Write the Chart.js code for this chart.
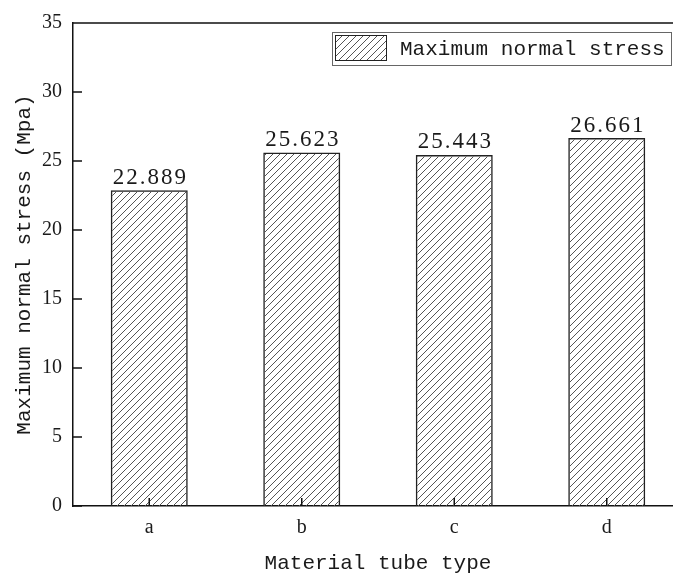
<!DOCTYPE html>
<html>
<head>
<meta charset="utf-8">
<script src="https://cdn.jsdelivr.net/npm/chart.js@4.4.0/dist/chart.umd.min.js"></script>
<style>
  html, body { margin: 0; padding: 0; overflow: hidden; background: #fff; }
</style>
</head>
<body>
<canvas id="myChart" width="690" height="576"></canvas>
<script>
const categories = ['a', 'b', 'c', 'd'];
const stressValues = [22.889, 25.623, 25.443, 26.661];
const valueLabels = ['22.889', '25.623', '25.443', '26.661'];
const seriesName = 'Maximum normal stress';

const ctx = document.getElementById('myChart');

// diagonal hatch like the origin fill
function makeHatch(c2d) {
  const s = 7;
  const c = document.createElement('canvas');
  c.width = s; c.height = s;
  const g = c.getContext('2d');
  g.strokeStyle = '#555';
  g.lineWidth = 1;
  g.beginPath();
  g.moveTo(0, s); g.lineTo(s, 0);
  g.moveTo(-s / 2, s / 2); g.lineTo(s / 2, -s / 2);
  g.moveTo(s / 2, s * 1.5); g.lineTo(s * 1.5, s / 2);
  g.stroke();
  return c2d.createPattern(c, 'repeat');
}
const hatch = makeHatch(ctx.getContext('2d'));

const frameAndTicks = {
  id: 'frameAndTicks',
  afterDraw(chart) {
    const { ctx, chartArea: { left, top, right, bottom }, scales: { x, y } } = chart;
    ctx.save();
    ctx.strokeStyle = '#111';
    ctx.lineWidth = 1.5;
    ctx.beginPath();
    ctx.moveTo(left, top);
    ctx.lineTo(right, top);
    y.ticks.forEach(t => {
      const py = y.getPixelForValue(t.value);
      ctx.moveTo(left, py);
      ctx.lineTo(left + 9, py);
    });
    categories.forEach((c, i) => {
      const px = x.getPixelForValue(i);
      ctx.moveTo(px, bottom);
      ctx.lineTo(px, bottom - 8);
    });
    ctx.stroke();

    // value labels above bars
    ctx.fillStyle = '#1a1a1a';
    ctx.font = '23px "Liberation Serif"';
    ctx.letterSpacing = '2px';
    ctx.textAlign = 'center';
    ctx.textBaseline = 'bottom';
    chart.getDatasetMeta(0).data.forEach((bar, i) => {
      ctx.fillText(valueLabels[i], bar.x + 1, bar.y - 1);
    });
    ctx.letterSpacing = '0px';

    // legend box
    ctx.strokeStyle = '#666';
    ctx.lineWidth = 1;
    ctx.strokeRect(332.5, 32.5, 339, 33);
    ctx.fillStyle = hatch;
    ctx.fillRect(335, 35, 52, 26);
    ctx.strokeStyle = '#222';
    ctx.strokeRect(335.5, 35.5, 51, 25);
    ctx.fillStyle = '#1a1a1a';
    ctx.font = '21px "Liberation Mono"';
    ctx.textAlign = 'left';
    ctx.textBaseline = 'middle';
    ctx.fillText(seriesName, 400, 49);
    ctx.restore();
  }
};

new Chart(ctx, {
  type: 'bar',
  data: {
    labels: categories,
    datasets: [{
      label: seriesName,
      data: stressValues,
      backgroundColor: hatch,
      borderColor: '#222',
      borderWidth: 1.5,
      barPercentage: 0.505,
      categoryPercentage: 1
    }]
  },
  options: {
    responsive: false,
    animation: false,
    layout: { padding: { top: 14, right: 7, left: 0, bottom: 0 } },
    plugins: {
      legend: { display: false },
      tooltip: { enabled: false }
    },
    scales: {
      x: {
        grid: { display: false, drawTicks: false, tickLength: 0 },
        border: { display: true, color: '#111', width: 1.5 },
        ticks: { color: '#1a1a1a', font: { family: 'Liberation Serif', size: 20 }, padding: 10 },
        title: {
          display: true,
          text: 'Material tube type',
          color: '#1a1a1a',
          font: { family: 'Liberation Mono', size: 21 },
          padding: { top: 3, bottom: 0 }
        },
        afterFit(scale) { scale.height = 70; }
      },
      y: {
        min: 0,
        max: 35,
        grid: { display: false, drawTicks: false, tickLength: 0 },
        border: { display: true, color: '#111', width: 1.5 },
        ticks: { stepSize: 5, color: '#1a1a1a', font: { family: 'Liberation Serif', size: 20 }, padding: 11 },
        title: {
          display: true,
          text: 'Maximum normal stress (Mpa)',
          color: '#1a1a1a',
          font: { family: 'Liberation Mono', size: 21 },
          padding: { top: 12, bottom: 0 }
        },
        afterFit(scale) { scale.width = 73; }
      }
    }
  },
  plugins: [frameAndTicks]
});
</script>
</body>
</html>
